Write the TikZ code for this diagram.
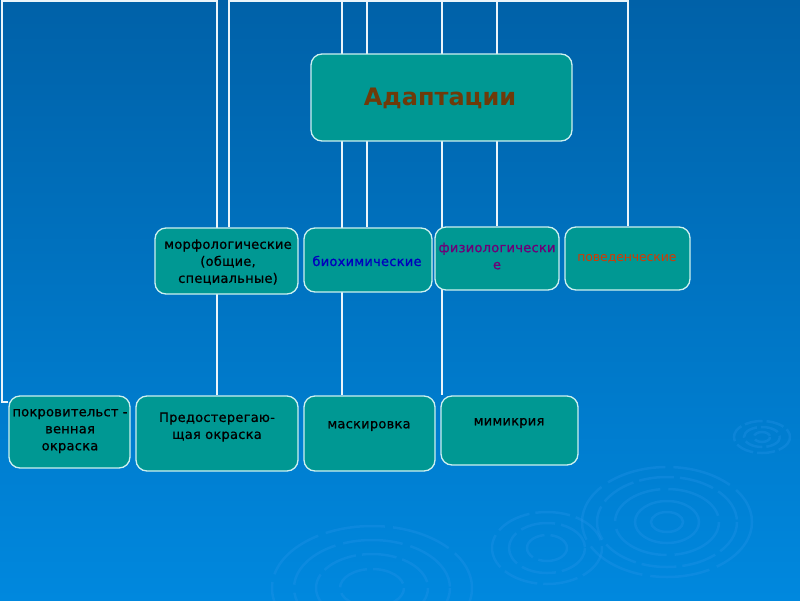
\documentclass[tikz,border=0pt]{standalone}
\usepackage{fontspec}
\setmainfont{DejaVu Sans}
\newfontfamily\lbfont[LetterSpace=2.0,FakeBold=0.8]{DejaVu Sans}
\newfontfamily\pvfont[LetterSpace=-1.0]{DejaVu Sans}
\usetikzlibrary{backgrounds}
\definecolor{bgtop}{RGB}{0,97,168}
\definecolor{bgbot}{RGB}{0,136,222}
\definecolor{tealbox}{RGB}{0,152,147}
\definecolor{boxline}{RGB}{205,240,240}
\definecolor{linecol}{RGB}{235,245,250}
\definecolor{ripple}{RGB}{40,150,235}
\definecolor{brownt}{RGB}{110,58,10}
\definecolor{bluet}{RGB}{0,0,190}
\definecolor{purplet}{RGB}{110,0,120}
\definecolor{redt}{RGB}{215,55,0}
\tikzset{
  box/.style={draw=boxline, line width=1.3pt, fill=tealbox, rounded corners=11pt, inner sep=0pt},
  conn/.style={draw=linecol, line width=2.3pt},
  lbl/.style={align=center, font=\lbfont\fontsize{13}{17}\selectfont, inner sep=0pt},
  rip/.style={draw=ripple, line width=2.5pt, opacity=0.3},
  ripa/.style={rip, dash pattern=on 60pt off 8pt},
  ripb/.style={rip, dash pattern=on 35pt off 6pt},
  ripc/.style={rip, dash pattern=on 18pt off 4pt}
}
\begin{document}
\begin{tikzpicture}[x=1pt,y=-1pt]
\useasboundingbox (0,0) rectangle (800,600);
% boxes
\path (441.5,97.5) node[box, minimum width=261pt, minimum height=87pt] (adapt) {};
\path (226.5,261) node[box, minimum width=143pt, minimum height=66pt] (morph) {};
\path (368,260) node[box, minimum width=128pt, minimum height=64pt] (bio) {};
\path (497,258.5) node[box, minimum width=124pt, minimum height=63pt] (fiz) {};
\path (627.5,258.5) node[box, minimum width=125pt, minimum height=63pt] (pov) {};
\path (69.5,432) node[box, minimum width=121pt, minimum height=72pt] (pokr) {};
\path (217,433.5) node[box, minimum width=162pt, minimum height=75pt] (pred) {};
\path (369.5,433.5) node[box, minimum width=131pt, minimum height=75pt] (mask) {};
\path (509.5,430.5) node[box, minimum width=137pt, minimum height=69pt] (mim) {};
% labels
\node[lbl, font=\fontsize{24}{30}\selectfont\bfseries, text=brownt] (tadapt) at (440,98) {Адаптации};
\node[lbl] (tmorph) at (228,262) {морфологические\\(общие,\\специальные)};
\node[lbl, text=bluet] (tbio) at (367,261) {биохимические};
\node[lbl, text=purplet] (tfiz) at (497,256) {физиологически\\е};
\node[lbl, text=redt, font=\pvfont\fontsize{12.5}{15}\selectfont] (tpov) at (627,259) {поведенческие};
\node[lbl] (tpokr) at (70,431) {покровительст -\\венная\\окраска};
\node[lbl] (tpred) at (217,427) {Предостерегаю-\\щая окраска};
\node[lbl] (tmask) at (369,426) {маскировка};
\node[lbl] (tmim) at (509,423) {мимикрия};
\begin{scope}[on background layer]
\shade[top color=bgtop, bottom color=bgbot] (0,0) rectangle (800,600);
% ripples
\draw[ripa] (667,522) ellipse [x radius=85, y radius=55];
\draw[ripb] (667,522) ellipse [x radius=70, y radius=45];
\draw[ripa] (667,522) ellipse [x radius=52, y radius=33];
\draw[rip] (667,522) ellipse [x radius=32, y radius=21];
\draw[rip] (667,522) ellipse [x radius=16, y radius=10];
\draw[ripb] (547,548) ellipse [x radius=55, y radius=36];
\draw[ripb] (547,548) ellipse [x radius=38, y radius=25];
\draw[ripb] (547,548) ellipse [x radius=20, y radius=13];
\draw[ripc] (762,437) ellipse [x radius=28, y radius=16];
\draw[ripc] (762,437) ellipse [x radius=18, y radius=10];
\draw[ripc] (762,437) ellipse [x radius=8, y radius=5];
\draw[ripa] (372,588) ellipse [x radius=100, y radius=62];
\draw[ripa] (372,588) ellipse [x radius=78, y radius=48];
\draw[ripb] (372,588) ellipse [x radius=56, y radius=34];
\draw[ripb] (372,588) ellipse [x radius=32, y radius=19];
% connector frame
\coordinate (tl) at (2,1);
\coordinate (t1) at (217,1);
\coordinate (t2) at (229,1);
\coordinate (t3) at (342,1);
\coordinate (t4) at (367,1);
\coordinate (t5) at (442,1);
\coordinate (t6) at (497,1);
\coordinate (t7) at (628,1);
\draw[conn] (pokr.west |- 0,402) -- (2,402) -- (tl) -- (t1) -- (t1 |- pred.north);
\draw[conn] (t2 |- morph.north) -- (t2) -- (t7) -- (t7 |- pov.north);
\draw[conn] (t3) -- (t3 |- mask.north);
\draw[conn] (t4) -- (t4 |- bio.north);
\draw[conn] (t5) -- (t5 |- mim.north);
\draw[conn] (t6) -- (t6 |- fiz.north);
\end{scope}
\end{tikzpicture}
\end{document}
